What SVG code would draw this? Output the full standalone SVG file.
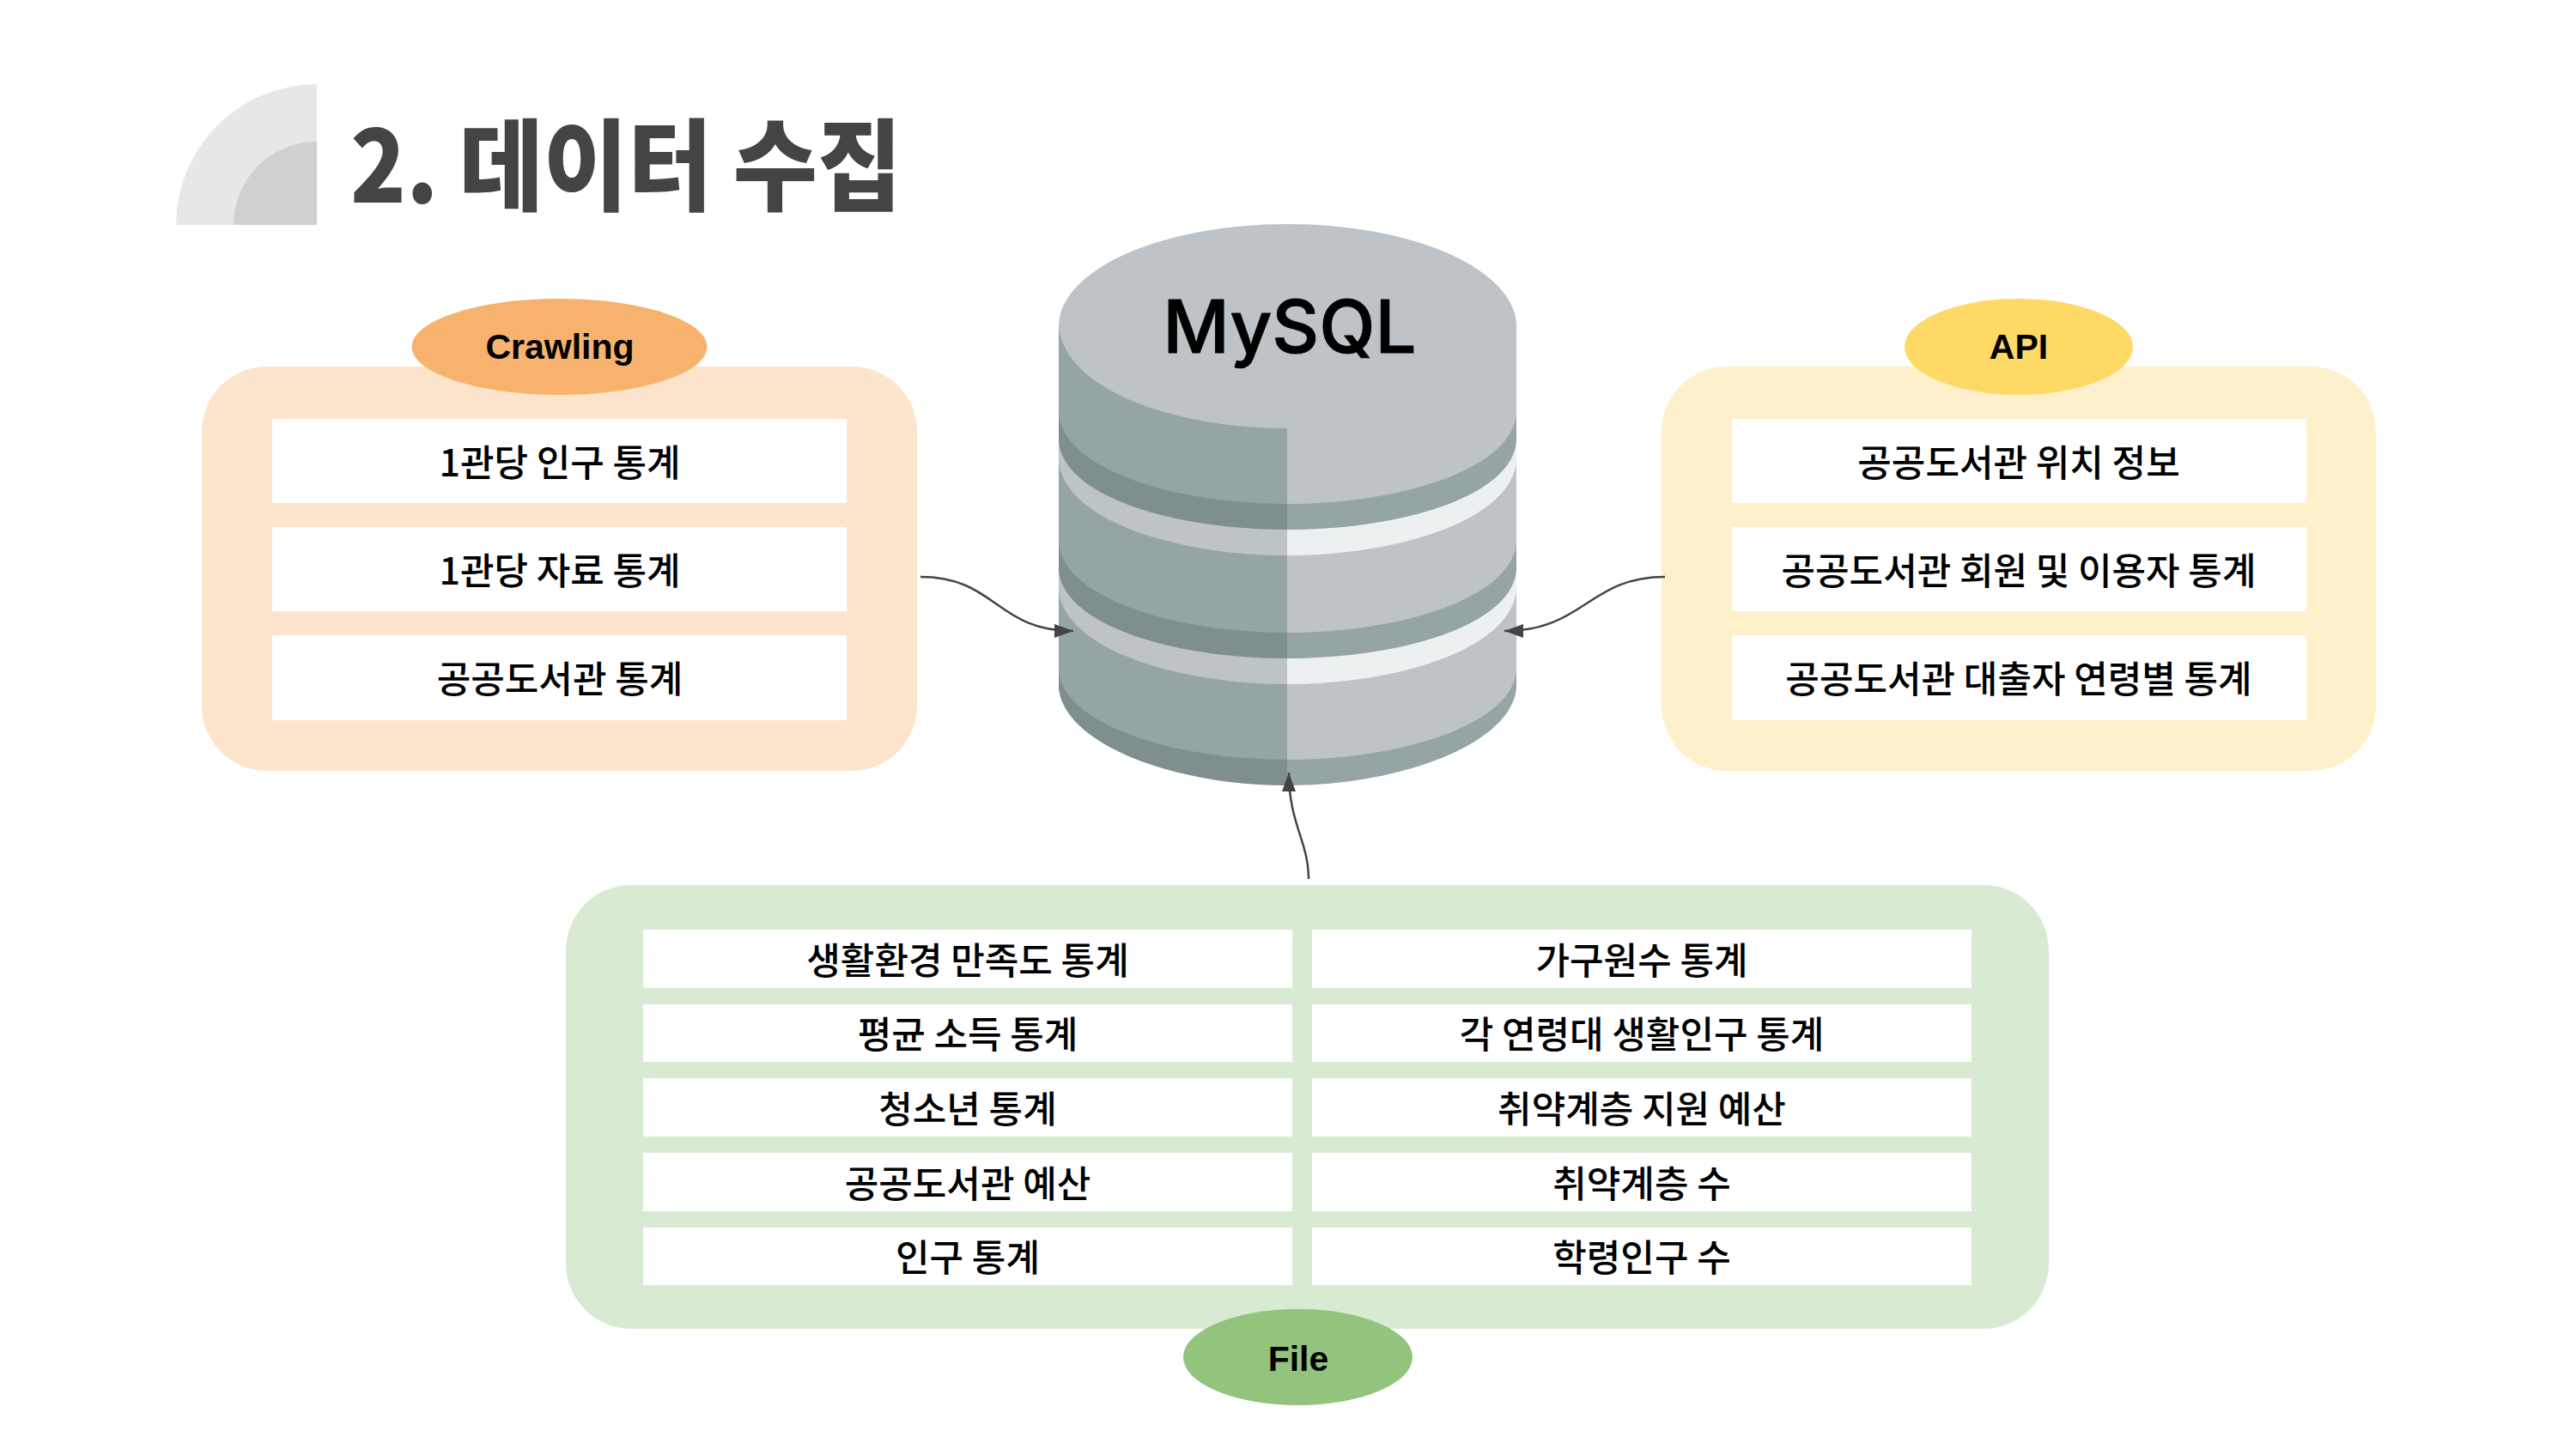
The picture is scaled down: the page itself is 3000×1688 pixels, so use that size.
<svg xmlns="http://www.w3.org/2000/svg" width="3000" height="1688" viewBox="0 0 3000 1688">
<defs>
<style>
.row{fill:#fff}
.t{font-family:"Noto Sans CJK KR","Noto Sans",sans-serif;font-size:43px;font-weight:500;fill:#000;text-anchor:middle}
.b{font-family:"Liberation Sans",Arial,sans-serif;font-size:41px;font-weight:700;fill:#000;text-anchor:middle}
.c{fill:none;stroke:#444;stroke-width:2.5;marker-end:url(#ah)}
</style>
<marker id="ah" markerUnits="userSpaceOnUse" markerWidth="24" markerHeight="18" refX="22" refY="9" orient="auto"><path d="M0 1L22 9L0 17Z" fill="#444"/></marker>
</defs>
<rect width="3000" height="1688" fill="#fff"/>
<g id="title">
<path d="M369 98A164 164 0 0 0 205 262H369Z" fill="#e7e7e7"/>
<path d="M369 165A97 97 0 0 0 272 262H369Z" fill="#d0d0d0"/>
<text transform="translate(408 236) scale(.92 1)" font-family="'Noto Sans CJK KR',sans-serif" font-size="116" font-weight="900" fill="#444">2. 데이터 수집</text>
</g>
<g id="db">
<path d="M1233 380V802C1240 868 1370 915 1499 915V380Z" fill="#7f8e8f"/>
<path d="M1766 380V802C1759 868 1628 915 1499 915V380Z" fill="#95a5a6"/>
<path d="M1233 380V782C1240 846 1370 885 1499 885V380Z" fill="#95a5a6"/>
<path d="M1766 380V782C1759 846 1628 885 1499 885V380Z" fill="#bdc3c7"/>
<path d="M1233 380V688C1240 756 1370 797 1499 797V380Z" fill="#bdc3c7"/>
<path d="M1766 380V688C1759 756 1628 797 1499 797V380Z" fill="#ecf0f1"/>
<path d="M1233 380V665C1240 730 1370 767 1499 767V380Z" fill="#7f8e8f"/>
<path d="M1766 380V665C1759 730 1628 767 1499 767V380Z" fill="#95a5a6"/>
<path d="M1233 380V633C1240 698 1370 737 1499 737V380Z" fill="#95a5a6"/>
<path d="M1766 380V633C1759 698 1628 737 1499 737V380Z" fill="#bdc3c7"/>
<path d="M1233 380V538C1240 606 1370 647 1499 647V380Z" fill="#bdc3c7"/>
<path d="M1766 380V538C1759 606 1628 647 1499 647V380Z" fill="#ecf0f1"/>
<path d="M1233 380V515C1240 580 1370 617 1499 617V380Z" fill="#7f8e8f"/>
<path d="M1766 380V515C1759 580 1628 617 1499 617V380Z" fill="#95a5a6"/>
<path d="M1233 380V483C1240 548 1370 587 1499 587V380Z" fill="#95a5a6"/>
<path d="M1766 380V483C1759 548 1628 587 1499 587V380Z" fill="#bdc3c7"/>
<path d="M1233 380A266.500 119 0 0 1 1766 380V480L1499 560V499C1370 499 1240 455 1233 380Z" fill="#bdc3c7"/>
<text x="1502" y="411" font-family="Inter,sans-serif" font-size="85" font-weight="500" fill="#000" stroke="#000" stroke-width="1" stroke-linejoin="round" text-anchor="middle">MySQL</text>
</g>
<g id="crawling">
<rect x="235" y="427" width="833" height="471" rx="76" fill="#fce4cd"/>
<rect class="row" x="317" y="488" width="669" height="98"/>
<rect class="row" x="317" y="614" width="669" height="98"/>
<rect class="row" x="317" y="740" width="669" height="99"/>
<text class="t" x="652" y="555">1관당 인구 통계</text>
<text class="t" x="652" y="681">1관당 자료 통계</text>
<text class="t" x="652" y="807">공공도서관 통계</text>
<ellipse cx="651.500" cy="404" rx="172" ry="56" fill="#f7b26d"/>
<text class="b" x="652" y="418">Crawling</text>
</g>
<g id="api">
<rect x="1935" y="427" width="832" height="471" rx="76" fill="#fff0cc"/>
<rect class="row" x="2017" y="488" width="669" height="98"/>
<rect class="row" x="2017" y="614" width="669" height="98"/>
<rect class="row" x="2017" y="740" width="669" height="99"/>
<text class="t" x="2351" y="555">공공도서관 위치 정보</text>
<text class="t" x="2351" y="681">공공도서관 회원 및 이용자 통계</text>
<text class="t" x="2351" y="807">공공도서관 대출자 연령별 통계</text>
<ellipse cx="2351" cy="404" rx="133" ry="56" fill="#ffd966"/>
<text class="b" x="2351" y="418">API</text>
</g>
<g id="file">
<rect x="659" y="1031" width="1727" height="517" rx="76" fill="#d9ead3"/>
<rect class="row" x="749" y="1083" width="756" height="68"/>
<rect class="row" x="749" y="1170" width="756" height="67"/>
<rect class="row" x="749" y="1256" width="756" height="68"/>
<rect class="row" x="749" y="1343" width="756" height="68"/>
<rect class="row" x="749" y="1430" width="756" height="67"/>
<rect class="row" x="1528" y="1083" width="768" height="68"/>
<rect class="row" x="1528" y="1170" width="768" height="67"/>
<rect class="row" x="1528" y="1256" width="768" height="68"/>
<rect class="row" x="1528" y="1343" width="768" height="68"/>
<rect class="row" x="1528" y="1430" width="768" height="67"/>
<text class="t" x="1127" y="1135">생활환경 만족도 통계</text>
<text class="t" x="1127" y="1221">평균 소득 통계</text>
<text class="t" x="1127" y="1308">청소년 통계</text>
<text class="t" x="1127" y="1395">공공도서관 예산</text>
<text class="t" x="1127" y="1481">인구 통계</text>
<text class="t" x="1912" y="1135">가구원수 통계</text>
<text class="t" x="1912" y="1221">각 연령대 생활인구 통계</text>
<text class="t" x="1912" y="1308">취약계층 지원 예산</text>
<text class="t" x="1912" y="1395">취약계층 수</text>
<text class="t" x="1912" y="1481">학령인구 수</text>
<ellipse cx="1511.500" cy="1581" rx="133.500" ry="56" fill="#93c47d"/>
<text class="b" x="1512" y="1597">File</text>
</g>
<g id="connectors">
<path class="c" d="M1072 672C1160 672 1160 735 1250 735"/>
<path class="c" d="M1939 672C1850 672 1845 735 1752 735"/>
<path class="c" d="M1524 1024C1524 980 1501 960 1501 900"/>
</g>
</svg>
